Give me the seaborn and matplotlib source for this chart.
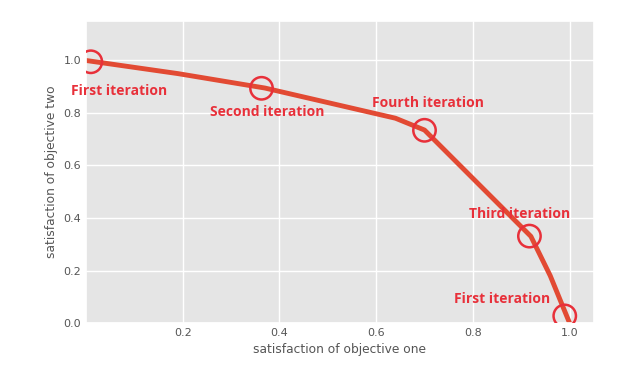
import pandas as pd
import seaborn as sns
import matplotlib.pyplot as plt

# pareto front points
obj_one = [0.0, 0.19, 0.37, 0.64, 0.70, 0.92, 0.96, 1.0]
obj_two = [1.0, 0.95, 0.895, 0.78, 0.735, 0.33, 0.18, 0.0]

# iterations marked on the front
iter_x = [0.01, 0.363, 0.70, 0.917, 0.99]
iter_y = [0.995, 0.894, 0.734, 0.331, 0.027]
labels = ["First iteration", "Second iteration", "Fourth iteration", "Third iteration", "First iteration"]
label_x = [0.068, 0.375, 0.707, 0.897, 0.86]
label_y = [0.882, 0.802, 0.837, 0.414, 0.091]

df = pd.DataFrame({"one": obj_one, "two": obj_two})

sns.set_theme(style="darkgrid", rc={
    "axes.facecolor": "#E5E5E5",
    "grid.color": "white",
    "axes.labelcolor": "#555555",
    "xtick.color": "#555555",
    "ytick.color": "#555555",
})

fig = plt.figure(figsize=(6.44, 3.70), dpi=100)
ax = fig.add_axes([0.1335, 0.127, 0.7885, 0.816])

sns.lineplot(data=df, x="one", y="two", color="#E24A33", linewidth=3.5, ax=ax)
ax.scatter(iter_x, iter_y, s=260, facecolors="none", edgecolors="#E8303A", linewidths=1.8, zorder=3)

for t, x, y in zip(labels, label_x, label_y):
    ax.text(x, y, t, ha="center", va="center", color="#E8303A", fontsize=10,
            fontweight="bold", family="Open Sans")

ax.set_xlim(0, 1.05)
ax.set_ylim(0, 1.15)
ax.set_xticks([0.2, 0.4, 0.6, 0.8, 1.0])
ax.set_yticks([0.0, 0.2, 0.4, 0.6, 0.8, 1.0])
ax.tick_params(labelsize=8, length=0)
ax.set_xlabel("satisfaction of objective one", fontsize=8.8)
ax.set_ylabel("satisfaction of objective two", fontsize=8.8)

fig.savefig("out.png", dpi=100)
